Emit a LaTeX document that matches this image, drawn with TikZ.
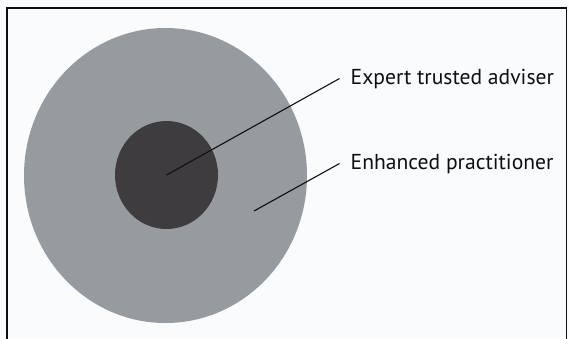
\documentclass[tikz,border=0pt]{standalone}
\usepackage{fontspec}
\setmainfont{PT Sans}
\usetikzlibrary{shapes.geometric}
\definecolor{bgc}{RGB}{250,251,253}
\definecolor{outerc}{RGB}{150,155,160}
\definecolor{innerc}{RGB}{62,60,63}
\definecolor{inkc}{RGB}{15,15,15}
\tikzset{
  disc/.style={ellipse, inner sep=0pt, draw=none},
  label text/.style={anchor=base west, inner sep=0pt, text=inkc, font=\fontsize{21.6}{26}\selectfont},
  leader/.style={draw=inkc, line width=1.1pt},
  frame/.style={draw=inkc, line width=1.4pt}
}
\begin{document}
\begin{tikzpicture}[x=1pt, y=-1pt]
  \useasboundingbox[fill=bgc] (0,0) rectangle (569,338);
  \draw[frame] (7,345) -- (7,8) -- (566.5,8) -- (566.5,345);
  \node[disc, fill=outerc, minimum width=283pt, minimum height=295pt] (outer) at (165.5,175.5) {};
  \node[disc, fill=innerc, minimum width=103pt, minimum height=108pt] (inner) at (166.5,175) {};
  \coordinate (p1) at (166.5,175);
  \coordinate (p2) at (254,211);
  \node[label text] (l1) at (350.5,84) {Expert trusted adviser};
  \node[label text] (l2) at (350.5,169) {Enhanced practitioner};
  \draw[leader] (p1) -- ([xshift=-11pt]l1.west);
  \draw[leader] (p2) -- ([xshift=-11pt]l2.west);
\end{tikzpicture}
\end{document}
